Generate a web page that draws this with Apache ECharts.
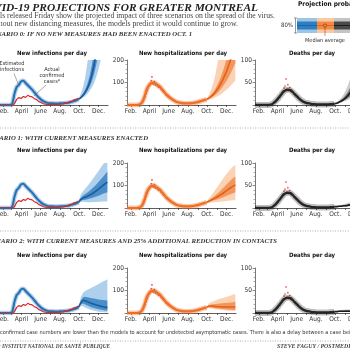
<!DOCTYPE html>
<html>
<head>
<meta charset="utf-8">
<script src="https://cdn.jsdelivr.net/npm/echarts@6/dist/echarts.min.js"></script>
<style>
  html, body { margin: 0; padding: 0; background: #fff; }
  #chart { width: 350px; height: 350px; }
</style>
</head>
<body>
<div id="chart"></div>
<script>
// days of the year (Jan 1 = 1)
const histDays = [20,27,34,41,48,55,62,69,76,83,90,97,104,111,118,125,132,139,146,153,160,167,174,181,188,195,202,209,216,223,230,237,244,251,258,265,272];
const projDays = [272,279,286,293,300,307,314,321,328,335,342,349,356,363];
const monthTicks = [32,60,91,121,152,182,213,244,274,305,335];
const monthLabelDays = [32,91,152,213,274,335];
const monthLabels = ['Feb.','April','June','Aug.','Oct.','Dec.'];

// observed / fitted history (same in every scenario)
const estInfections = [0,0,0,0,0,5,60,500,800,900,1050,1080,980,880,780,680,560,440,330,240,170,120,95,80,75,70,70,72,75,80,90,100,115,140,170,210,260];
const confirmedCases = [0,0,0,0,0,0,5,60,250,330,290,380,340,430,380,360,280,240,150,110,55,40,30,25,28,22,30,32,42,48,75,95,150,170,230,250,300];
const hospHist = [0,0,0,0,0,1,4,15,40,70,88,98,100,95,88,80,68,56,45,36,28,22,16,12,10,8,7,7,7,8,9,11,13,16,19,22,25];
const deathsHist = [0,0,0,0,0,0,0,1,3,7,12,18,24,30,33,34,33,29,24,19,14,10,7,5,4,3,2,2,1,1,1,1,1,1,2,2,3];
const hospActualDays = [69,73,77,80,84,87,91,94,97,99,101,104,107,110,113,116,120,124,128,133,138,144,150,157,165];
const hospActual = [12,25,38,52,65,78,86,95,108,125,96,92,104,88,95,84,78,82,70,62,55,44,38,30,22];
const deathsActualDays = [85,92,98,104,108,112,115,118,121,124,127,130,134,138,143,148,155,162,170];
const deathsActual = [6,12,17,26,30,38,42,58,35,45,32,39,30,31,24,21,17,12,8];

// scenario 0: no new measures
const infMed0 = [260,330,430,570,760,1000,1350,1800,2400,3200,4200,5500,7000,9000];
const infDarkLo0 = [250,300,380,490,630,810,1060,1380,1800,2350,3050,3950,5000,6400];
const infDarkHi0 = [275,370,500,690,950,1300,1780,2400,3250,4350,5800,7600,9900,12800];
const infLightLo0 = [235,270,330,400,500,620,780,980,1250,1600,2000,2500,3100,3800];
const infLightHi0 = [290,500,800,1250,1900,2800,4000,5500,7500,10000,13000,17000,22000,28000];
const hospMed0 = [25,30,38,47,58,72,88,106,127,150,177,207,240,275];
const hospDarkLo0 = [24,27,32,38,46,55,66,78,92,107,124,143,164,187];
const hospDarkHi0 = [26,34,45,58,73,92,114,140,170,205,245,290,340,395];
const hospLightLo0 = [23,24,26,30,34,39,45,52,60,68,77,87,98,110];
const hospLightHi0 = [28,46,68,98,138,190,255,330,420,520,640,780,940,1120];
const deathMed0 = [3,4,6,9,12,16,21,27,34,42,52,64,78,95];
const deathDarkLo0 = [3,3,5,7,9,12,15,19,24,30,37,45,55,66];
const deathDarkHi0 = [3,5,8,11,16,22,29,38,48,60,74,90,110,132];
const deathLightLo0 = [2,3,4,5,7,9,11,14,17,21,25,30,36,43];
const deathLightHi0 = [4,7,11,16,23,32,44,58,75,95,118,145,176,212];

// scenario 1: current measures
const infMed1 = [260,380,450,480,520,570,630,690,760,840,920,1000,1080,1150];
const infDarkLo1 = [240,320,360,370,390,420,450,480,510,550,590,630,670,700];
const infDarkHi1 = [280,450,560,620,690,770,860,950,1050,1160,1270,1380,1500,1620];
const infLightLo1 = [220,270,280,270,260,260,260,265,270,275,280,285,290,300];
const infLightHi1 = [300,600,750,860,980,1100,1230,1370,1510,1650,1790,1930,2070,2200];
const hospMed1 = [25,30,35,40,45,51,57,63,70,77,84,91,97,103];
const hospDarkLo1 = [24,27,30,33,36,39,42,46,50,54,58,62,66,70];
const hospDarkHi1 = [26,34,41,49,57,66,75,84,94,104,114,124,133,140];
const hospLightLo1 = [23,23,24,25,26,27,28,29,30,31,32,33,34,35];
const hospLightHi1 = [28,42,55,68,82,96,110,124,138,151,163,175,185,192];
const deathMed1 = [3,3,4,4,5,5,6,7,7,8,9,10,11,12];
const deathDarkLo1 = [2,3,3,3,4,4,4,5,5,6,6,7,7,8];
const deathDarkHi1 = [3,4,5,5,6,7,8,9,10,11,12,13,15,16];
const deathLightLo1 = [2,2,2,3,3,3,3,4,4,4,4,5,5,5];
const deathLightHi1 = [4,5,6,7,8,10,11,13,15,17,19,21,23,25];

// scenario 2: current measures + 25% fewer contacts
const infMed2 = [260,450,560,540,500,460,420,390,360,330,300,280,260,240];
const infDarkLo2 = [240,380,420,380,330,290,250,220,190,170,150,130,115,100];
const infDarkHi2 = [280,540,700,720,700,680,660,640,620,600,590,580,570,560];
const infLightLo2 = [220,300,300,250,200,160,130,100,80,60,50,40,30,25];
const infLightHi2 = [300,700,900,980,1030,1080,1130,1180,1230,1290,1350,1400,1450,1500];
const hospMed2 = [25,30,31,30,29,28,28,27,27,27,27,27,27,27];
const hospDarkLo2 = [24,26,25,23,21,20,19,18,17,16,15,14,13,13];
const hospDarkHi2 = [26,35,38,39,40,41,42,43,44,45,46,47,48,50];
const hospLightLo2 = [23,22,20,18,16,15,14,13,12,11,10,10,9,9];
const hospLightHi2 = [28,42,48,52,56,60,63,66,69,72,75,78,82,85];
const deathMed2 = [3,3,4,4,4,4,4,4,4,4,4,4,4,4];
const deathDarkLo2 = [2,3,3,3,3,3,3,3,3,3,3,3,3,3];
const deathDarkHi2 = [3,4,5,5,5,6,6,6,6,6,6,6,6,6];
const deathLightLo2 = [2,2,2,2,2,2,2,2,2,2,2,2,2,1];
const deathLightHi2 = [4,5,6,7,7,8,8,8,9,9,9,9,9,10];

const panelTitles = ['New infections per day', 'New hospitalizations per day', 'Deaths per day'];
const scenarioTitles = [
  'SCENARIO 0: IF NO NEW MEASURES HAD BEEN ENACTED OCT. 1',
  'SCENARIO 1: WITH CURRENT MEASURES ENACTED',
  'SCENARIO 2: WITH CURRENT MEASURES AND 25% ADDITIONAL REDUCTION IN CONTACTS'
];

const proj = [
  [[infMed0, infDarkLo0, infDarkHi0, infLightLo0, infLightHi0],
   [hospMed0, hospDarkLo0, hospDarkHi0, hospLightLo0, hospLightHi0],
   [deathMed0, deathDarkLo0, deathDarkHi0, deathLightLo0, deathLightHi0]],
  [[infMed1, infDarkLo1, infDarkHi1, infLightLo1, infLightHi1],
   [hospMed1, hospDarkLo1, hospDarkHi1, hospLightLo1, hospLightHi1],
   [deathMed1, deathDarkLo1, deathDarkHi1, deathLightLo1, deathLightHi1]],
  [[infMed2, infDarkLo2, infDarkHi2, infLightLo2, infLightHi2],
   [hospMed2, hospDarkLo2, hospDarkHi2, hospLightLo2, hospLightHi2],
   [deathMed2, deathDarkLo2, deathDarkHi2, deathLightLo2, deathLightHi2]]
];

const yMax = [2000, 200, 100];
const yStep = [1000, 100, 50];
const colLeft = [-1, 127, 255];
const rowTop = [60, 163, 268];
const plotW = 109, plotH = 45;
const titleX = [52, 183, 312];
const titleY = [53, 150, 255];
const scenY = [34, 138, 241];
const scenRight = [192, 148, 277];

const pal = [
  { med: '#1b5c9c', dark: 'rgba(40,120,190,0.75)', light: 'rgba(140,188,228,0.7)', hist: '#2270b5' },
  { med: '#e4601a', dark: 'rgba(241,135,70,0.8)', light: 'rgba(249,196,155,0.75)', hist: '#ee6e22' },
  { med: '#1a1a1a', dark: 'rgba(60,60,60,0.6)', light: 'rgba(165,165,165,0.55)', hist: '#262626' }
];

const sansN = "'Liberation Sans Narrow', 'DejaVu Sans Condensed', sans-serif";
const serif = "'Liberation Serif', serif";

const pairs = (xs, ys) => xs.map((d, i) => [d, ys[i]]);

function band(idx, lo, hi, color) {
  return {
    type: 'custom', xAxisIndex: idx, yAxisIndex: idx, clip: true, silent: true,
    data: [[projDays[0], lo[0]]],
    renderItem: (params, api) => {
      const top = projDays.map((d, i) => api.coord([d, hi[i]]));
      const bot = projDays.map((d, i) => api.coord([d, lo[i]])).reverse();
      return { type: 'polygon', shape: { points: top.concat(bot) }, style: { fill: color } };
    }
  };
}

const grids = [], xAxes = [], yAxes = [], series = [];
for (let r = 0; r < 3; r++) {
  for (let c = 0; c < 3; c++) {
    const i = r * 3 + c;
    grids.push({ left: colLeft[c], top: rowTop[r], width: plotW, height: plotH, outerBoundsMode: 'none' });
    xAxes.push({
      gridIndex: i, type: 'value', min: 20, max: 365,
      axisLine: { lineStyle: { color: '#333', width: 0.8 } },
      axisTick: { customValues: monthTicks, length: 2, lineStyle: { color: '#333', width: 0.7 } },
      axisLabel: {
        customValues: monthLabelDays, fontSize: 6.5, margin: 3, color: '#333', fontFamily: sansN,
        formatter: v => monthLabels[monthLabelDays.indexOf(v)]
      },
      splitLine: { show: false }
    });
    yAxes.push({
      gridIndex: i, type: 'value', min: 0, max: yMax[c], interval: yStep[c],
      axisLine: { show: true, lineStyle: { color: '#555', width: 0.8 } },
      axisTick: { show: true, length: 2.5, lineStyle: { color: '#555', width: 0.7 } },
      minorTick: { show: true, splitNumber: 5, length: 1.5, lineStyle: { color: '#777', width: 0.6 } },
      axisLabel: { fontSize: 6.5, margin: 3, color: '#333', fontFamily: sansN, formatter: v => (v === 0 ? '' : v) },
      splitLine: { show: false }
    });

    const p = proj[r][c];
    series.push(band(i, p[3], p[4], pal[c].light));
    series.push(band(i, p[1], p[2], pal[c].dark));

    if (c === 0) {
      series.push({ type: 'line', xAxisIndex: i, yAxisIndex: i, data: pairs(histDays, estInfections),
        symbol: 'none', smooth: 0.3, lineStyle: { color: 'rgba(34,112,181,0.35)', width: 4.5 } });
      series.push({ type: 'line', xAxisIndex: i, yAxisIndex: i, data: pairs(histDays, estInfections),
        symbol: 'none', smooth: 0.3, lineStyle: { color: pal[0].hist, width: 2 } });
      series.push({ type: 'line', xAxisIndex: i, yAxisIndex: i, data: pairs(histDays, confirmedCases),
        symbol: 'none', lineStyle: { color: '#d8282a', width: 1.2 } });
    } else if (c === 1) {
      series.push({ type: 'line', xAxisIndex: i, yAxisIndex: i, data: pairs(histDays, hospHist),
        symbol: 'none', smooth: 0.3, lineStyle: { color: 'rgba(238,110,34,0.4)', width: 5 } });
      series.push({ type: 'line', xAxisIndex: i, yAxisIndex: i, data: pairs(histDays, hospHist),
        symbol: 'none', smooth: 0.3, lineStyle: { color: pal[1].hist, width: 2.2 } });
      series.push({ type: 'scatter', xAxisIndex: i, yAxisIndex: i, data: pairs(hospActualDays, hospActual),
        symbol: 'circle', symbolSize: 1.8, itemStyle: { color: '#c0392b' } });
    } else {
      series.push({ type: 'line', xAxisIndex: i, yAxisIndex: i, data: pairs(histDays, deathsHist),
        symbol: 'none', smooth: 0.3, lineStyle: { color: 'rgba(0,0,0,0.25)', width: 6 } });
      series.push({ type: 'line', xAxisIndex: i, yAxisIndex: i, data: pairs(histDays, deathsHist),
        symbol: 'none', smooth: 0.3, lineStyle: { color: pal[2].hist, width: 2.4 } });
      series.push({ type: 'scatter', xAxisIndex: i, yAxisIndex: i, data: pairs(deathsActualDays, deathsActual),
        symbol: 'circle', symbolSize: 1.8, itemStyle: { color: '#e0463a' } });
    }
    series.push({ type: 'line', xAxisIndex: i, yAxisIndex: i, data: pairs(projDays, p[0]),
      symbol: 'none', smooth: 0.3, lineStyle: { color: pal[c].med, width: 1.6 } });
  }
}

const txt = (text, x, y, font, fill, align) => ({
  type: 'text', silent: true,
  style: { text: text, x: x, y: y, font: font, fill: fill || '#222', textAlign: align || 'left', textVerticalAlign: 'middle' }
});
const line = (x1, y1, x2, y2, stroke, w, dash) => ({
  type: 'line', silent: true,
  shape: { x1: x1, y1: y1, x2: x2, y2: y2 },
  style: { stroke: stroke, lineWidth: w, lineDash: dash || null }
});

const graphic = [];
graphic.push(txt('COVID-19 PROJECTIONS FOR GREATER MONTREAL', 258, 8, 'italic bold 11.4px ' + serif, '#222', 'right'));
graphic.push(txt('Models released Friday show the projected impact of three scenarios on the spread of the virus.', 275, 16, '7.7px ' + serif, '#444', 'right'));
graphic.push(txt('Without new distancing measures, the models predict it would continue to grow.', 238, 24, '7.8px ' + serif, '#444', 'right'));
for (let r = 0; r < 3; r++) {
  graphic.push(txt(scenarioTitles[r], scenRight[r], scenY[r], 'italic bold 6.75px ' + serif, '#333', 'right'));
  for (let c = 0; c < 3; c++) {
    graphic.push(txt(panelTitles[c], titleX[c], titleY[r], 'bold 6px ' + sansN, '#111', 'center'));
  }
}
[128, 231, 341].forEach(y => graphic.push(line(0, y, 350, y, '#999', 0.8, [1, 1.5])));

// legend box
const legSeg = [
  { x: 297, w: 20, light: '#9cc6e8', dark: '#2f7fc0', med: '#1b5c9c' },
  { x: 317, w: 17, light: '#fac8a2', dark: '#f08a45', med: '#d95e14' },
  { x: 334, w: 20, light: '#c4c4c4', dark: '#4a4a4a', med: '#111' }
];
graphic.push(txt('Projection probability', 298, 4, 'bold 6.5px ' + sansN, '#111', 'left'));
legSeg.forEach(s => {
  graphic.push({ type: 'rect', silent: true, shape: { x: s.x, y: 18, width: s.w, height: 15 }, style: { fill: s.light } });
  graphic.push({ type: 'rect', silent: true, shape: { x: s.x, y: 21.5, width: s.w, height: 8 }, style: { fill: s.dark } });
  graphic.push(line(s.x, 25.5, s.x + s.w, 25.5, s.med, 0.8));
});
graphic.push(line(295.5, 18, 295.5, 33, '#555', 0.6));
graphic.push(line(294, 18, 297, 18, '#555', 0.6));
graphic.push(line(294, 33, 297, 33, '#555', 0.6));
graphic.push(txt('80%', 293, 25.5, '6px ' + sansN, '#333', 'right'));
graphic.push({ type: 'circle', silent: true, shape: { cx: 325, cy: 25.5, r: 1.6 }, style: { fill: '#f08a45', stroke: '#7a2f08', lineWidth: 0.6 } });
graphic.push(line(325, 27.2, 325, 36, '#7a2f08', 0.5));
graphic.push(txt('Median average', 325, 41, '5.5px ' + sansN, '#333', 'center'));

// annotations in the first infections panel
graphic.push(txt('Estimated', 12, 64, '5.5px ' + sansN, '#333', 'center'));
graphic.push(txt('infections', 12, 70, '5.5px ' + sansN, '#333', 'center'));
graphic.push(line(14, 73.5, 19, 86, '#555', 0.5));
graphic.push(txt('Actual', 52, 70, '5.5px ' + sansN, '#333', 'center'));
graphic.push(txt('confirmed', 52, 76, '5.5px ' + sansN, '#333', 'center'));
graphic.push(txt('cases*', 52, 82, '5.5px ' + sansN, '#333', 'center'));
graphic.push(line(46, 85, 34, 96, '#555', 0.5));

graphic.push(txt('confirmed case numbers are lower than the models to account for undetected asymptomatic cases. There is also a delay between a case being infectious and confirmed.', 0, 333, '5.5px ' + sansN, '#333', 'left'));
graphic.push(txt('SOURCE: INSTITUT NATIONAL DE SANTÉ PUBLIQUE', 110, 347, 'italic bold 5.3px ' + serif, '#444', 'right'));
graphic.push(txt('STEVE FAGUY / POSTMEDIA', 277, 347, 'italic bold 5.8px ' + serif, '#444', 'left'));

const option = {
  animation: false,
  backgroundColor: '#fff',
  grid: grids,
  xAxis: xAxes,
  yAxis: yAxes,
  series: series,
  graphic: graphic
};

const chart = echarts.init(document.getElementById('chart'));
chart.setOption(option);
window.addEventListener('resize', () => chart.resize());
</script>
</body>
</html>
